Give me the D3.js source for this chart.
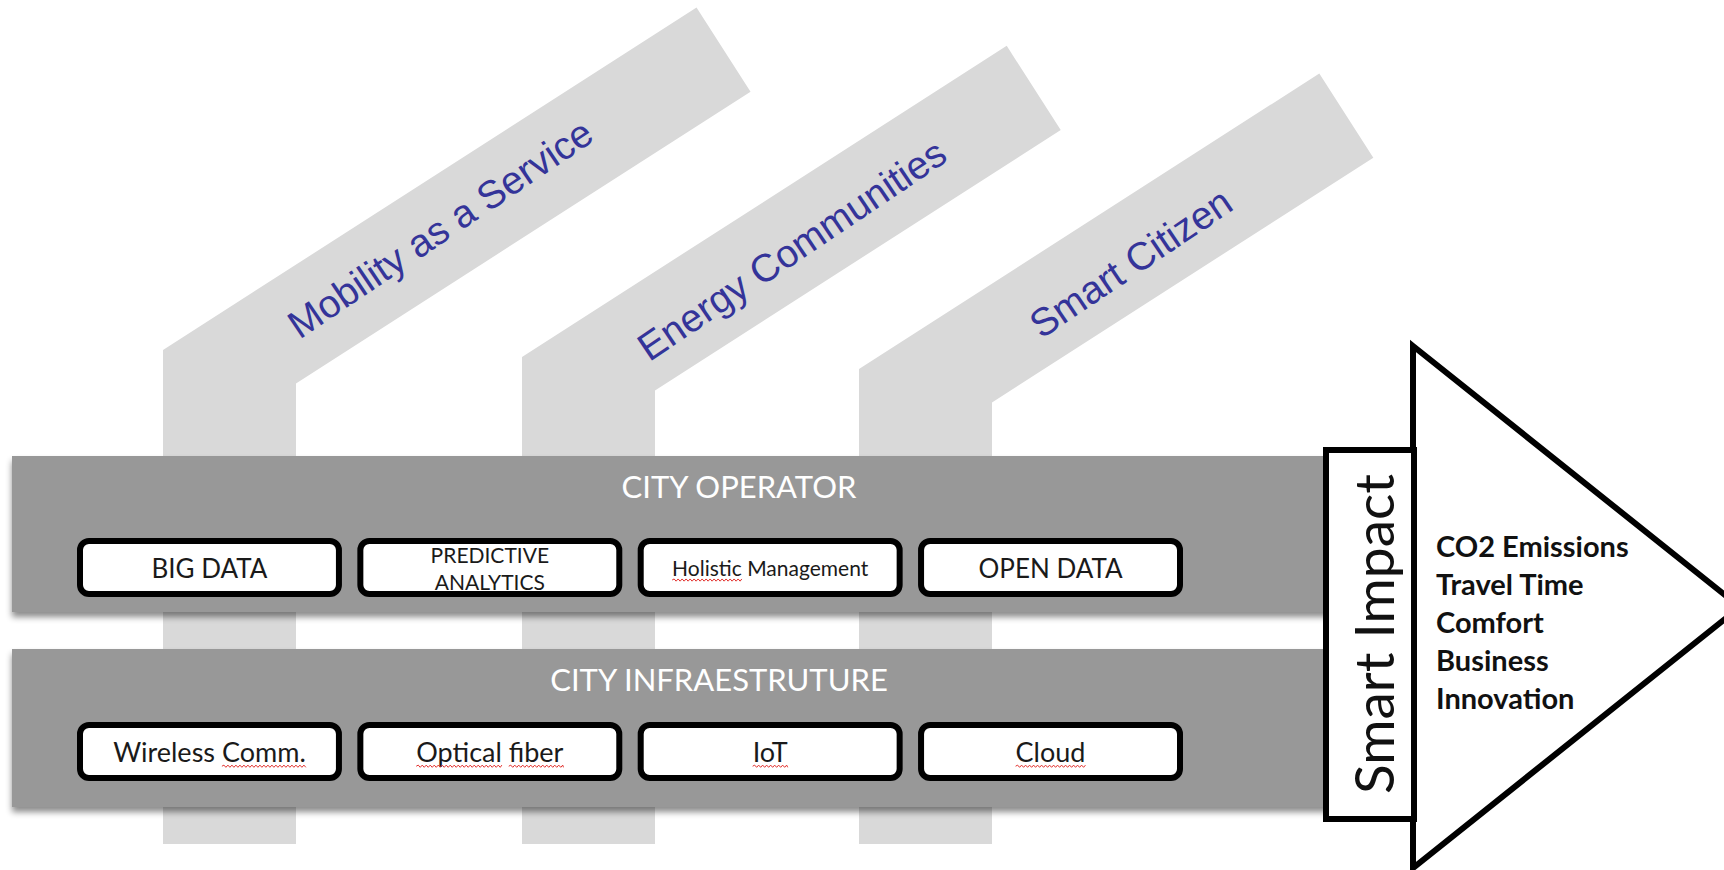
<!DOCTYPE html>
<html>
<head>
<meta charset="utf-8">
<script src="https://cdn.jsdelivr.net/npm/d3@7"></script>
<style>
  body { margin: 0; background: #fff; }
  svg { display: block; }
  .pillar-label { font-family: "Liberation Sans", Arial, sans-serif; fill: #343499; }
  .calib { font-family: Lato, "Open Sans", sans-serif; }
</style>
</head>
<body>
<script>
// content
const pillars = ['Mobility as a Service', 'Energy Communities', 'Smart Citizen'];
const layers = ['CITY OPERATOR', 'CITY INFRAESTRUTURE'];
const operatorItems = ['BIG DATA', 'PREDICTIVE\nANALYTICS', 'Holistic Management', 'OPEN DATA'];
const infraItems = ['Wireless Comm.', 'Optical fiber', 'IoT', 'Cloud'];
const impactTitle = 'Smart Impact';
const impacts = ['CO2 Emissions', 'Travel Time', 'Comfort', 'Business', 'Innovation'];
// words with the red spell-check squiggle
const flagged = ['Holistic', 'Comm.', 'Optical', 'fiber', 'IoT', 'Cloud'];

// constants
const width = 1724;
const height = 870;
const pillarWidth = 133;
const slantWidth = 100;
const angle = 32.7 * Math.PI / 180;
const textAngle = 34;
const pillarBottom = 844;

const svg = d3.select('body')
  .append('svg')
  .attr('width', width)
  .attr('height', height);

const defs = svg.append('defs');
defs.append('filter')
  .attr('id', 'shadow')
  .attr('x', '-2%').attr('y', '-10%')
  .attr('width', '104%').attr('height', '130%')
  .append('feDropShadow')
  .attr('dx', 0).attr('dy', 5)
  .attr('stdDeviation', 3)
  .attr('flood-color', '#000')
  .attr('flood-opacity', 0.45);

// pillar geometry
const pillarX = d3.scaleOrdinal().domain(pillars).range([163, 522, 859]);
const pillarBend = d3.scaleOrdinal().domain(pillars).range([350, 357, 369]);
const pillarLen = d3.scaleOrdinal().domain(pillars).range([634, 576, 547]);
// label centre, measured along / across the slanted part from the left bend
const labelAlong = d3.scaleOrdinal().domain(pillars).range([299, 285, 286]);
const labelAcross = d3.scaleOrdinal().domain(pillars).range([47, 55, 57]);
const u = [Math.cos(angle), -Math.sin(angle)];
const n = [Math.sin(angle), Math.cos(angle)];

const pillarPoints = (p) => {
  const x0 = pillarX(p);
  const by = pillarBend(p);
  const L = pillarLen(p);
  const cx = x0 + L * u[0];
  const cy = by + L * u[1];
  const dx = cx + slantWidth * n[0];
  const dy = cy + slantWidth * n[1];
  // right bend: slanted right edge meets the vertical right edge
  const t = (pillarWidth - slantWidth * n[0]) / u[0];
  const ey = by + slantWidth * n[1] + t * u[1];
  return [[x0, pillarBottom], [x0, by], [cx, cy], [dx, dy], [x0 + pillarWidth, ey], [x0 + pillarWidth, pillarBottom]];
};

const pillarG = svg.selectAll(null)
  .data(pillars)
  .join('g')
  .attr('class', 'pillar');

pillarG.append('path')
  .attr('d', (d) => d3.line()(pillarPoints(d)) + 'Z')
  .attr('fill', '#d9d9d9');

pillarG.append('text')
  .attr('class', 'pillar-label')
  .attr('transform', (d) => {
    const x = pillarX(d) + labelAlong(d) * u[0] + labelAcross(d) * n[0];
    const y = pillarBend(d) + labelAlong(d) * u[1] + labelAcross(d) * n[1];
    return `translate(${x},${y}) rotate(${-textAngle})`;
  })
  .attr('text-anchor', 'middle')
  .attr('dy', '0.36em')
  .attr('font-size', 39)
  .text((d) => d);

// layers
const layerTop = d3.scaleOrdinal().domain(layers).range([456, 649]);
const layerHeight = d3.scaleOrdinal().domain(layers).range([156, 158]);
const titleX = d3.scaleOrdinal().domain(layers).range([739, 719]);
const boxTop = d3.scaleOrdinal().domain(layers).range([538, 722]);
const items = d3.scaleOrdinal().domain(layers).range([operatorItems, infraItems]);
const col = d3.scaleBand().domain(d3.range(4)).range([77, 1183]).paddingInner(0.055);
const boxH = 59;

const layerG = svg.selectAll(null)
  .data(layers)
  .join('g')
  .attr('class', 'layer');

layerG.append('rect')
  .attr('x', 12)
  .attr('y', (d) => layerTop(d))
  .attr('width', 1320)
  .attr('height', (d) => layerHeight(d))
  .attr('fill', '#989898')
  .attr('filter', 'url(#shadow)');

layerG.append('text')
  .attr('class', 'calib')
  .attr('x', (d) => titleX(d))
  .attr('y', (d) => layerTop(d) + 42)
  .attr('text-anchor', 'middle')
  .attr('font-size', 31)
  .attr('fill', '#fff')
  .text((d) => d);

const boxes = layerG.selectAll('g.box')
  .data((d) => items(d).map((label, i) => ({ label, i, layer: d })))
  .join('g')
  .attr('class', 'box');

boxes.append('rect')
  .attr('x', (d) => col(d.i) + 3)
  .attr('y', (d) => boxTop(d.layer) + 3)
  .attr('width', col.bandwidth() - 6)
  .attr('height', boxH - 6)
  .attr('rx', 9)
  .attr('fill', '#fff')
  .attr('stroke', '#000')
  .attr('stroke-width', 6);

boxes.each(function drawLabel(d) {
  const lines = d.label.split('\n');
  const twoLine = lines.length > 1;
  let size = d.layer === layers[1] ? 27 : 26;
  if (twoLine) size = 20;
  if (d.label.length > 15) size = 21;
  const cx = col(d.i) + col.bandwidth() / 2;
  const cy = boxTop(d.layer) + boxH / 2;
  const gap = 27;
  lines.forEach((line, k) => {
    const t = d3.select(this).append('text')
      .attr('class', 'calib')
      .attr('x', cx)
      .attr('y', cy + (k - (lines.length - 1) / 2) * gap + 1)
      .attr('dy', '0.36em')
      .attr('text-anchor', 'middle')
      .attr('font-size', size)
      .attr('fill', '#1a1a1a')
      .text(line);
    // red squiggle under flagged words
    const node = t.node();
    flagged.forEach((w) => {
      const idx = line.indexOf(w);
      if (idx < 0) return;
      const x1 = node.getStartPositionOfChar(idx).x;
      const x2 = node.getEndPositionOfChar(idx + w.length - 1).x;
      const y = node.getStartPositionOfChar(idx).y + 4;
      let p = `M${x1},${y}`;
      for (let x = x1, up = true; x < x2; x += 2, up = !up) {
        p += `L${Math.min(x + 2, x2)},${y + (up ? -1.1 : 1.1)}`;
      }
      d3.select(this).append('path')
        .attr('d', p)
        .attr('fill', 'none')
        .attr('stroke', '#e2312d')
        .attr('stroke-width', 1);
    });
  });
});

// smart impact arrow
const arrow = svg.append('g').attr('class', 'impact');
arrow.append('path')
  .attr('d', d3.line()([[1413, 346], [1740, 607], [1413, 868]]) + 'Z')
  .attr('fill', '#fff')
  .attr('stroke', '#000')
  .attr('stroke-width', 6)
  .attr('stroke-linejoin', 'miter');

arrow.append('rect')
  .attr('x', 1326)
  .attr('y', 450)
  .attr('width', 88)
  .attr('height', 369)
  .attr('fill', '#fff')
  .attr('stroke', '#000')
  .attr('stroke-width', 6);

arrow.append('text')
  .attr('class', 'calib')
  .attr('transform', 'translate(1394,634) rotate(-90)')
  .attr('text-anchor', 'middle')
  .attr('font-size', 55)
  .attr('fill', '#111')
  .text(impactTitle);

const impactY = d3.scalePoint().domain(impacts).range([557, 709]);
arrow.selectAll(null)
  .data(impacts)
  .join('text')
  .attr('class', 'calib')
  .attr('x', 1436)
  .attr('y', (d) => impactY(d))
  .attr('font-size', 29)
  .attr('font-weight', 700)
  .attr('fill', '#111')
  .text((d) => d);
</script>
</body>
</html>
